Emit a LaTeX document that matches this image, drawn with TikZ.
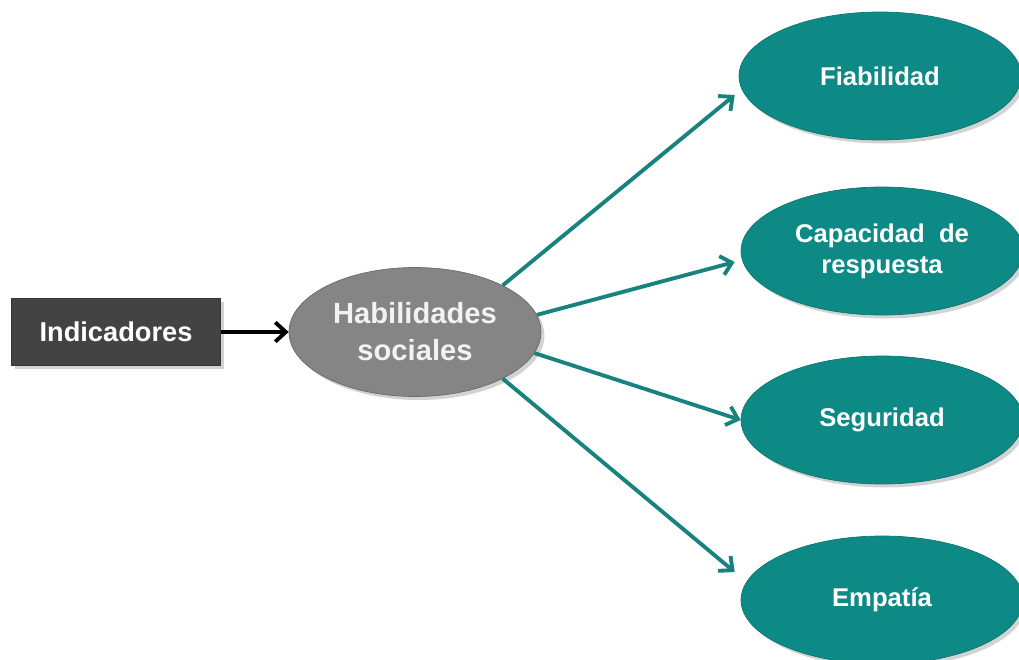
\documentclass[tikz,border=0pt]{standalone}
\usepackage{fontspec}
\setmainfont{Liberation Sans}
\usetikzlibrary{arrows.meta}
\usetikzlibrary{shapes.geometric}
\usetikzlibrary{shadows}
\usetikzlibrary{positioning}
\usetikzlibrary{calc}

\definecolor{tealfill}{HTML}{0E8A86}
\definecolor{tealline}{HTML}{17827E}
\definecolor{boxgray}{HTML}{434343}
\definecolor{habgray}{HTML}{858585}

\tikzset{
  indbox/.style={rectangle, fill=boxgray, draw=boxgray!80!black, minimum width=4.18cm, minimum height=1.34cm, text=white, font=\fontsize{15.5}{18}\selectfont\bfseries, drop shadow={opacity=0.35, shadow xshift=2pt, shadow yshift=-2pt}},
  habnode/.style={ellipse, fill=habgray, draw=habgray!80!black, minimum width=5.04cm, minimum height=2.58cm, inner sep=0pt, text=white!95!black, align=center, font=\fontsize{16.6}{21}\selectfont\bfseries, drop shadow={opacity=0.35, shadow xshift=2pt, shadow yshift=-2pt}},
  dimnode/.style={ellipse, fill=tealfill, draw=tealfill!85!black, minimum width=5.64cm, minimum height=2.56cm, inner sep=0pt, text=white, align=center, font=\fontsize{14.6}{17.5}\selectfont\bfseries, drop shadow={opacity=0.35, shadow xshift=2pt, shadow yshift=-2pt}},
  tealarrow/.style={draw=tealline, line width=2.2pt, -{Straight Barb[length=6pt, width=11pt, line width=2.2pt]}},
  blackarrow/.style={draw=black, line width=2.2pt, -{Straight Barb[length=6pt, width=11pt, line width=2.2pt]}}
}

\begin{document}
\begin{tikzpicture}[x=0.02cm, y=-0.02cm]
  \useasboundingbox (0,0) rectangle (1019,660);
  % draw nodes
  \node[indbox] (ind) at (116,332) {Indicadores};
  \node[habnode] (hab) at (415,332) {Habilidades\\sociales};
  \node[dimnode] (fia) at (880,76) {Fiabilidad};
  \node[dimnode] (cap) at (882,251) {Capacidad \ de\\respuesta};
  \node[dimnode] (seg) at (882,420) {Seguridad};
  \node[dimnode] (emp) at (882,600) {Empatía};
  % add arrows
  \draw[blackarrow] (ind.east) -- (hab.west);
  \draw[tealarrow] (hab.28) -- ($(fia.west)+(-4,19)$);
  \draw[tealarrow] (hab.8) -- ($(cap.west)+(-6,11)$);
  \draw[tealarrow] (hab.-10) -- (seg.west);
  \draw[tealarrow] (hab.-28) -- ($(emp.west)+(-6,-28)$);
\end{tikzpicture}
\end{document}
